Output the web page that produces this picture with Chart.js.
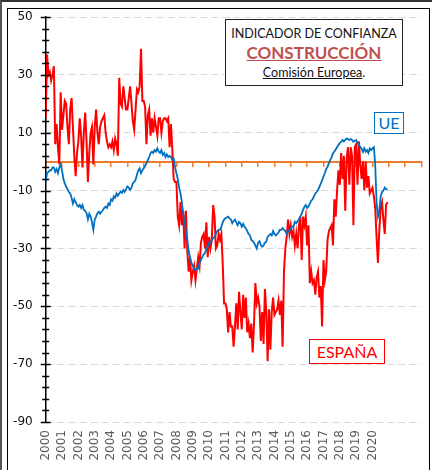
<!DOCTYPE html>
<html>
<head>
<meta charset="utf-8">
<script src="https://cdn.jsdelivr.net/npm/chart.js@4"></script>
<style>
  body { margin: 0; background: #fff; }
  #wrap { position: relative; width: 432px; height: 470px; overflow: hidden; }
  .frameOuter { position: absolute; left: 0; top: 0; width: 430px; height: 470px;
    border-left: 2px solid #555; border-top: 2px solid #333; }
  .frameInner { position: absolute; left: 7px; top: 8px; width: 421px; height: 480px;
    border: 1px solid #000; }
  canvas { position: absolute; left: 0; top: 0; }
  .box { position: absolute; font-family: Lato, sans-serif; text-align: center; box-sizing: border-box; }
  #title { left: 225px; top: 19px; width: 178px; height: 67px; border: 1px solid #222; background: #fff; }
  #title .l1 { font-size: 12.5px; margin-top: 6px; color: #111; }
  #title .l2 { font-size: 17px; font-weight: bold; color: #c0504d; text-decoration: underline; margin-top: 1px; }
  #title .l3 { font-size: 12.5px; color: #111; margin-top: 2px; }
  #ue { left: 374px; top: 112px; width: 30px; height: 22px; border: 1px solid #0070c0; color: #0070c0;
    font-size: 16px; line-height: 20px; background: #fff; }
  #es { left: 309px; top: 339px; width: 76px; height: 25px; border: 1px solid #ff0000; color: #ff0000;
    font-size: 16px; line-height: 23px; background: #fff; }
</style>
</head>
<body>
<div id="wrap">
  <div class="frameOuter"></div>
  <div class="frameInner"></div>
  <canvas id="confianza-chart" width="432" height="470"></canvas>
  <div class="box" id="title">
    <div class="l1">INDICADOR DE CONFIANZA</div>
    <div class="l2">CONSTRUCCIÓN</div>
    <div class="l3"><u>Comisión Europea</u>.</div>
  </div>
  <div class="box" id="ue">UE</div>
  <div class="box" id="es">ESPAÑA</div>
</div>
<script>
// monthly values, Jan 2000 - Dec 2020
const startYear = 2000;
const espana = [
  15, 37, 30, 31, 28, 30, 33, 6, 13, 5, -1, 24,          // 2000
  11, 16, 21, 20, 12, 6, 18, 22, 12, 2, -5, 3,            // 2001
  7, 15, 9, -2, 10, 17, 7, -7, 3, 10, 12, -1,             // 2002
  12, 18, 10, 6, 12, 14, 15, 16, 10, 7, 5, 6,             // 2003
  5, 7, 4, 8, 6, 2, 29, 20, 19, 26, 22, 18,               // 2004
  18, 22, 26, 20, 14, 11, 18, 25, 24, 26, 39, 21,         // 2005
  21, 19, 6, 16, 18, 9, 15, 10, 15, 12, 9, 15,            // 2006
  15, 10, 14, 15, 15, 14, 15, 5, 13, 4, -6, -7,           // 2007
  -7, -19, -22, -14, -22, -17, -30, -17, -31, -38, -33, -41, // 2008
  -38, -36, -41, -37, -33, -36, -28, -26, -25, -30, -21, -33, // 2009
  -26, -30, -27, -15, -19, -30, -29, -25, -27, -25, -35, -49, // 2010
  -49, -51, -59, -52, -57, -57, -64, -57, -49, -58, -45, -52, // 2011
  -58, -46, -54, -47, -59, -56, -61, -56, -66, -56, -42, -49, // 2012
  -47, -50, -62, -52, -63, -44, -52, -69, -51, -65, -52, -47, // 2013
  -53, -52, -51, -48, -53, -48, -64, -38, -30, -26, -20, -25, // 2014
  -22, -26, -24, -29, -25, -30, -22, -19, -34, -19, -22, -19, // 2015
  -29, -22, -42, -38, -42, -41, -46, -40, -38, -47, -43, -57, // 2016
  -34, -41, -38, -27, -24, -23, -22, -29, -13, -19, -10, -3,  // 2017
  -8, 3, -6, 2, -17, 1, 5, -8, 5, 2, -22, 5,              // 2018
  6, -8, 7, -1, -6, 0, -10, 0, -9, -5, -11, -10,          // 2019
  -9, -12, -16, -26, -35, -24, -16, -14, -20, -25, -15, -14 // 2020
];
const ue = [
  -7, -4, -3.5, -3, -3, -2, -2, -3.5, -2.5, -4, -2, -1,                   // 2000
  -3, -6, -7.5, -8.6, -9.5, -10.5, -11, -12.5, -14.5, -13, -14, -15,      // 2001
  -15.6, -15, -16, -15, -16.7, -17, -17.8, -20, -18, -19, -21, -23.6,     // 2002
  -20, -19, -17.8, -17.3, -18, -17.3, -16.7, -16, -15.6, -16, -14.5, -15, // 2003
  -13, -13.5, -12, -12.5, -11, -11.8, -11, -10.3, -10.8, -9.8, -10.5, -9.5, // 2004
  -8.6, -9, -9.8, -9, -7.5, -7, -6.3, -4.5, -3, -2.3, -4, -3,             // 2005
  -2.3, -1.5, -0.5, 0.5, 1.6, 2.9, 3.4, 3, 4, 3.5, 4.6, 3.5,              // 2006
  3, 4, 2.3, 3, 1.6, 2.5, 1.6, 2, 1.6, 0.6, 1, -1.8,                      // 2007
  -4, -6, -9, -11, -14, -18, -21, -24, -27, -31, -33, -35,                // 2008
  -36, -37, -37.5, -37, -37, -35, -34, -33, -32, -31.6, -30, -29.4,       // 2009
  -28, -28, -27, -26.5, -26, -25, -24, -23.6, -23.6, -22.5, -21, -20,     // 2010
  -19.6, -19.3, -19, -19.6, -20, -21.3, -20.5, -20, -21, -22, -20.8, -21.3, // 2011
  -22.5, -21.5, -22.5, -23, -24, -25, -25.5, -27, -27.5, -28, -29, -30,   // 2012
  -28, -27.5, -28.8, -29.4, -29, -28, -27.7, -26, -25.5, -25, -25.5, -24, // 2013
  -25, -25.5, -25, -24.5, -23.6, -23.6, -23, -23.5, -24, -25, -24, -24,   // 2014
  -23, -22.5, -22.5, -20.8, -21.3, -20.5, -20, -19, -18, -16.7, -15.6, -15, // 2015
  -16, -15.5, -14.5, -13.5, -13, -12, -11, -10.5, -9.8, -8.7, -7.6, -6.5, // 2016
  -5.2, -4, -2.5, -1.8, -0.5, 0.6, 1.5, 2.9, 3.5, 4.2, 5, 5.8,            // 2017
  6.4, 6.8, 7.5, 7, 7.5, 8, 7.8, 7.5, 7.8, 7.5, 6.9, 7.2,                 // 2018
  7.5, 6.5, 5.8, 5, 4.5, 3.4, 4.6, 3.4, 4, 3, 4.6, 4,                     // 2019
  4.6, 5, -1, -14, -19, -17, -12, -10.5, -10, -9, -9.5, -9.8              // 2020
];
const yearLabels = [2000, 2001, 2002, 2003, 2004, 2005, 2006, 2007, 2008, 2009, 2010,
  2011, 2012, 2013, 2014, 2015, 2016, 2017, 2018, 2019, 2020];
const yTicks = [50, 30, 10, -10, -30, -50, -70, -90];
const yMinorStep = 4;

const toPoints = arr => arr.map((v, i) => ({ x: startYear + i / 12, y: v }));

// y axis tick marks crossing the axis line (major + minor)
const axisTicks = {
  id: 'axisTicks',
  afterDatasetsDraw(chart) {
    const y = chart.scales.y;
    const ctx = chart.ctx;
    const x0 = y.right;
    ctx.save();
    ctx.strokeStyle = '#000';
    ctx.lineWidth = 1.5;
    for (let v = y.min; v <= y.max; v += yMinorStep) {
      const py = Math.round(y.getPixelForValue(v)) + 0.5;
      const major = yTicks.includes(v);
      const half = major ? 5 : 3.5;
      ctx.beginPath();
      ctx.moveTo(x0 - half, py);
      ctx.lineTo(x0 + half, py);
      ctx.stroke();
    }
    ctx.restore();
  }
};

new Chart(document.getElementById('confianza-chart'), {
  type: 'line',
  data: {
    datasets: [
      {
        label: 'UE',
        data: toPoints(ue),
        borderColor: '#0070c0',
        borderWidth: 1.8,
        pointRadius: 0,
        tension: 0
      },
      {
        label: 'ESPAÑA',
        data: toPoints(espana),
        borderColor: '#ff0000',
        borderWidth: 2,
        pointRadius: 0,
        tension: 0
      }
    ]
  },
  options: {
    responsive: false,
    animation: false,
    layout: { padding: { top: 17, right: 10.5, left: 0, bottom: 0 } },
    plugins: { legend: { display: false }, tooltip: { enabled: false } },
    scales: {
      x: {
        type: 'linear',
        min: 2000,
        max: 2023,
        grid: { display: false, drawTicks: false },
        border: { display: false },
        ticks: {
          stepSize: 1,
          autoSkip: false,
          minRotation: 90,
          maxRotation: 90,
          padding: 8,
          color: '#595959',
          font: { family: 'DejaVu Sans', size: 12 },
          callback: v => (yearLabels.includes(v) ? String(v) : '')
        },
        afterFit: s => { s.height = 48; s.paddingLeft = 0; s.paddingRight = 0; }
      },
      x2: {
        type: 'linear',
        position: { y: 0 },
        min: 2000,
        max: 2023,
        z: 1,
        grid: { drawOnChartArea: false, color: '#ed7d31', tickLength: 4, lineWidth: 1.5 },
        border: { color: '#ed7d31', width: 2 },
        ticks: { stepSize: 1, display: false },
        afterFit: s => { s.paddingLeft = 0; s.paddingRight = 0; }
      },
      y: {
        min: -90,
        max: 50,
        grid: { color: '#d9d9d9', lineWidth: 1, drawTicks: false },
        border: { color: '#000', width: 1.5, dash: [7, 4] },
        ticks: {
          stepSize: 20,
          padding: 13,
          color: '#111',
          font: { family: 'DejaVu Sans', size: 12 }
        },
        afterFit: s => { s.width = 45.7; s.paddingTop = 0; s.paddingBottom = 0; }
      }
    }
  },
  plugins: [axisTicks]
});
</script>
</body>
</html>
